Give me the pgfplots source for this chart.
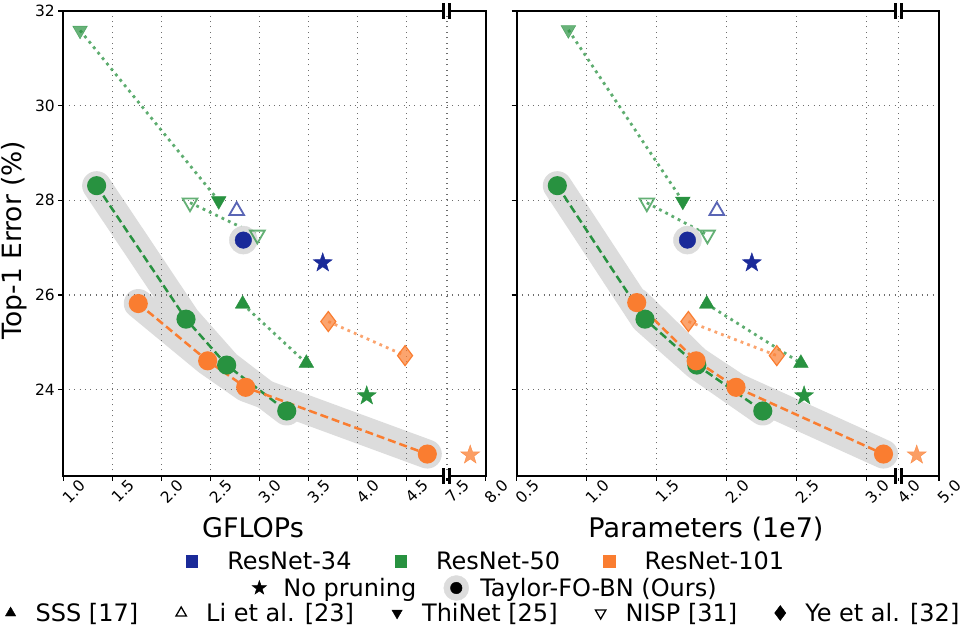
\documentclass[border=0pt]{standalone}
\usepackage{fontspec}
\setmainfont{DejaVu Sans}
\usepackage{pgfplots}
\pgfplotsset{compat=1.18}
\definecolor{rblue}{RGB}{26,42,153}
\definecolor{rgreen}{RGB}{40,146,64}
\definecolor{rorange}{RGB}{250,125,48}
\definecolor{halo}{RGB}{220,220,220}
\definecolor{gridc}{RGB}{110,110,110}

\pgfdeclareplotmark{fstar}{%
 \pgfpathmoveto{\pgfpointpolar{90}{\pgfplotmarksize}}%
 \pgfpathlineto{\pgfpointpolar{126}{0.4\pgfplotmarksize}}%
 \pgfpathlineto{\pgfpointpolar{162}{\pgfplotmarksize}}%
 \pgfpathlineto{\pgfpointpolar{198}{0.4\pgfplotmarksize}}%
 \pgfpathlineto{\pgfpointpolar{234}{\pgfplotmarksize}}%
 \pgfpathlineto{\pgfpointpolar{270}{0.4\pgfplotmarksize}}%
 \pgfpathlineto{\pgfpointpolar{306}{\pgfplotmarksize}}%
 \pgfpathlineto{\pgfpointpolar{342}{0.4\pgfplotmarksize}}%
 \pgfpathlineto{\pgfpointpolar{18}{\pgfplotmarksize}}%
 \pgfpathlineto{\pgfpointpolar{54}{0.4\pgfplotmarksize}}%
 \pgfpathclose\pgfusepathqfillstroke}

\pgfplotsset{
 panel/.style={set layers=standard, scale only axis, width=422.4pt, height=464.7pt,
  ymin=22.183, ymax=32, ytick={24,26,28,30,32},
  axis line style={line width=1.8pt}, tick style={line width=1.3pt, black},
  major tick length=5pt, tick align=outside, xtick pos=lower, ytick pos=left,
  grid=major, major grid style={gridc, line width=1.1pt, dash pattern=on 1.1pt off 4.3pt},
  tick label style={font=\fontsize{15.5}{17}\selectfont},
  x tick label style={rotate=45, anchor=center, yshift=-15pt, inner sep=0.5pt},
  /pgf/number format/assume math mode=true, /pgf/number format/fixed,
  /pgf/number format/precision=1, clip=false},
 band/.style={on layer=axis background, halo, line width=29pt, line cap=round, line join=round},
 taylor/.style={line width=2.5pt, dash pattern=on 8pt off 4pt, mark=*, mark size=8.3pt, mark options={solid}},
 dotl/.style={line width=2.8pt, dash pattern=on 2.8pt off 4.2pt},
 upt/.style={only marks, mark=triangle*, mark size=8.5pt},
 dnt/.style={only marks, mark=triangle*, mark size=8.5pt, mark options={rotate=180}},
 opdnt/.style={only marks, mark=triangle, mark size=8.5pt, mark options={rotate=180, line width=1.8pt}, opacity=0.72},
 opupt/.style={only marks, mark=triangle, mark size=8.5pt, mark options={line width=1.8pt}, opacity=0.72},
 dia/.style={only marks, mark=diamond*, mark size=10pt, mark options={fill opacity=0.7, line width=1.2pt}},
 starm/.style={only marks, mark=fstar, mark size=10pt},
 legrow/.style={hide axis, scale only axis, width=10pt, height=10pt, xmin=0, xmax=1, ymin=0, ymax=1, anchor=center,
  legend style={at={(0.5,0.5)}, anchor=center, draw=none, fill=none, legend columns=-1,
   font=\fontsize{24}{27}\selectfont, nodes={inner sep=0pt}},
  legend image code/.code={\path[draw=none,fill=none] (-10pt,-6pt) rectangle (10pt,6pt); \draw[mark repeat=2,mark phase=2,##1] plot coordinates {(-1pt,0pt)(0pt,0pt)(1pt,0pt)};}},
}

\begin{document}
\begin{tikzpicture}

% ---------------- left panel: GFLOPs ----------------
\begin{axis}[panel, at={(63.3pt,150.3pt)}, anchor=south west,
  xmin=1.0, xmax=5.31,
  xtick={1.0,1.5,2.0,2.5,3.0,3.5,4.0,4.5,4.915,5.31},
  xticklabels={1.0,1.5,2.0,2.5,3.0,3.5,4.0,4.5,7.5,8.0}]
% halos
\addplot[band] coordinates {(1.34,28.31) (2.252,25.49) (2.667,24.52) (3.28,23.55)};
\addplot[band] coordinates {(1.765,25.82) (2.473,24.61) (2.861,24.05) (4.714,22.64)};
\addplot[on layer=axis background, only marks, mark=*, mark size=14pt, halo] coordinates {(2.837,27.16)};
% ResNet-50 ThiNet
\addplot[rgreen, dotl, opacity=0.75] coordinates {(1.171,31.59) (2.586,27.99)};
\addplot[rgreen, dnt, opacity=0.7] coordinates {(1.171,31.59)};
\addplot[rgreen, dnt] coordinates {(2.586,27.99)};
% ResNet-50 NISP
\addplot[rgreen, dotl, opacity=0.75] coordinates {(2.293,27.95) (2.98,27.27)};
\addplot[rgreen, opdnt] coordinates {(2.293,27.95) (2.98,27.27)};
% ResNet-34
\addplot[rblue, opupt] coordinates {(2.769,27.78)};
\addplot[rblue, only marks, mark=*, mark size=8.3pt] coordinates {(2.837,27.16)};
\addplot[rblue, starm] coordinates {(3.647,26.68)};
% ResNet-50 SSS
\addplot[rgreen, dotl, opacity=0.75] coordinates {(2.83,25.81) (3.48,24.56)};
\addplot[rgreen, upt] coordinates {(2.83,25.81) (3.48,24.56)};
% ResNet-101 Ye et al.
\addplot[rorange, dotl, opacity=0.7] coordinates {(3.704,25.44) (4.487,24.72)};
\addplot[rorange, dia] coordinates {(3.704,25.44) (4.487,24.72)};
% Taylor-FO-BN
\addplot[rgreen, taylor] coordinates {(1.34,28.31) (2.252,25.49) (2.667,24.52) (3.28,23.55)};
\addplot[rorange, taylor] coordinates {(1.765,25.82) (2.473,24.61) (2.861,24.05) (4.714,22.64)};
% no pruning
\addplot[rgreen, starm] coordinates {(4.096,23.87)};
\addplot[rorange, starm, opacity=0.75] coordinates {(5.152,22.62)}; % 7.8 GFLOPs on the broken segment
\begin{pgfonlayer}{axis foreground}
\fill[white] ([xshift=-3pt,yshift=-2pt]axis cs:4.915,32) rectangle ([xshift=3pt,yshift=2pt]axis cs:4.915,32);
\draw[line width=3pt] ([xshift=-3pt,yshift=-8pt]axis cs:4.915,32) -- ++(0pt,16pt);
\draw[line width=3pt] ([xshift=3pt,yshift=-8pt]axis cs:4.915,32) -- ++(0pt,16pt);
\fill[white] ([xshift=-3pt,yshift=-2pt]axis cs:4.915,22.183) rectangle ([xshift=3pt,yshift=2pt]axis cs:4.915,22.183);
\draw[line width=3pt] ([xshift=-3pt,yshift=-8pt]axis cs:4.915,22.183) -- ++(0pt,16pt);
\draw[line width=3pt] ([xshift=3pt,yshift=-8pt]axis cs:4.915,22.183) -- ++(0pt,16pt);
\end{pgfonlayer}
\end{axis}

% ---------------- right panel: Parameters ----------------
\begin{axis}[panel, at={(516.7pt,150.3pt)}, anchor=south west,
  xmin=0.5, xmax=3.516, yticklabels={},
  xtick={0.5,1.0,1.5,2.0,2.5,3.0,3.226,3.516},
  xticklabels={0.5,1.0,1.5,2.0,2.5,3.0,4.0,5.0}]
\addplot[band] coordinates {(0.79,28.31) (1.416,25.49) (1.786,24.52) (2.257,23.55)};
\addplot[band] coordinates {(1.357,25.84) (1.781,24.61) (2.066,24.05) (3.119,22.64)};
\addplot[on layer=axis background, only marks, mark=*, mark size=14pt, halo] coordinates {(1.719,27.16)};
\addplot[rgreen, dotl, opacity=0.75] coordinates {(0.869,31.6) (1.686,27.98)};
\addplot[rgreen, dnt, opacity=0.7] coordinates {(0.869,31.6)};
\addplot[rgreen, dnt] coordinates {(1.686,27.98)};
\addplot[rgreen, dotl, opacity=0.75] coordinates {(1.429,27.95) (1.862,27.27)};
\addplot[rgreen, opdnt] coordinates {(1.429,27.95) (1.862,27.27)};
\addplot[rblue, opupt] coordinates {(1.929,27.78)};
\addplot[rblue, only marks, mark=*, mark size=8.3pt] coordinates {(1.719,27.16)};
\addplot[rblue, starm] coordinates {(2.179,26.68)};
\addplot[rgreen, dotl, opacity=0.75] coordinates {(1.857,25.81) (2.529,24.56)};
\addplot[rgreen, upt] coordinates {(1.857,25.81) (2.529,24.56)};
\addplot[rorange, dotl, opacity=0.7] coordinates {(1.726,25.44) (2.357,24.72)};
\addplot[rorange, dia] coordinates {(1.726,25.44) (2.357,24.72)};
\addplot[rgreen, taylor] coordinates {(0.79,28.31) (1.416,25.49) (1.786,24.52) (2.257,23.55)};
\addplot[rorange, taylor] coordinates {(1.357,25.84) (1.781,24.61) (2.066,24.05) (3.119,22.64)};
\addplot[rgreen, starm] coordinates {(2.552,23.87)};
\addplot[rorange, starm, opacity=0.75] coordinates {(3.356,22.62)}; % 4.45e7 on the broken segment
\begin{pgfonlayer}{axis foreground}
\fill[white] ([xshift=-3pt,yshift=-2pt]axis cs:3.226,32) rectangle ([xshift=3pt,yshift=2pt]axis cs:3.226,32);
\draw[line width=3pt] ([xshift=-3pt,yshift=-8pt]axis cs:3.226,32) -- ++(0pt,16pt);
\draw[line width=3pt] ([xshift=3pt,yshift=-8pt]axis cs:3.226,32) -- ++(0pt,16pt);
\fill[white] ([xshift=-3pt,yshift=-2pt]axis cs:3.226,22.183) rectangle ([xshift=3pt,yshift=2pt]axis cs:3.226,22.183);
\draw[line width=3pt] ([xshift=-3pt,yshift=-8pt]axis cs:3.226,22.183) -- ++(0pt,16pt);
\draw[line width=3pt] ([xshift=3pt,yshift=-8pt]axis cs:3.226,22.183) -- ++(0pt,16pt);
\end{pgfonlayer}
\end{axis}

% axis labels
\node[rotate=90, anchor=base, font=\fontsize{26.5}{30}\selectfont] at (21.7pt,386pt) {Top-1 Error (\%)};
\node[anchor=base, font=\fontsize{27}{30}\selectfont] at (253pt,88pt) {GFLOPs};
\node[anchor=base, font=\fontsize{27}{30}\selectfont] at (706pt,88pt) {Parameters (1e7)};

% legend rows
\begin{axis}[legrow, at={(483pt,65pt)},
  legend style={/tikz/every odd column/.append style={column sep=25.5pt},
                /tikz/every even column/.append style={column sep=39pt}}]
\addlegendimage{only marks, mark=square*, mark size=5.8pt, rblue}
\addlegendentry{ResNet-34}
\addlegendimage{only marks, mark=square*, mark size=5.8pt, rgreen}
\addlegendentry{ResNet-50}
\addlegendimage{only marks, mark=square*, mark size=5.8pt, rorange}
\addlegendentry{ResNet-101}
\end{axis}

\begin{axis}[legrow, at={(483pt,38pt)},
  legend style={/tikz/every odd column/.append style={column sep=14pt},
                /tikz/every even column/.append style={column sep=30pt}}]
\addlegendimage{only marks, mark=fstar, mark size=7.5pt, black}
\addlegendentry{No pruning}
\addlegendimage{legend image code/.code={\path[draw=none,fill=none] (-10pt,-13pt) rectangle (10pt,13pt); \fill[halo, overlay] (0pt,0pt) circle (12.5pt); \fill[black] (0pt,0pt) circle (5.8pt);}}
\addlegendentry{Taylor-FO-BN (Ours)}
\end{axis}

\begin{axis}[legrow, at={(480pt,13pt)},
  legend style={/tikz/every odd column/.append style={column sep=15pt},
                /tikz/every even column/.append style={column sep=33pt}}]
\addlegendimage{only marks, mark=triangle*, mark size=6pt, black}
\addlegendentry{SSS [17]}
\addlegendimage{only marks, mark=triangle, mark size=6pt, mark options={line width=1.3pt}, black}
\addlegendentry{Li et al. [23]}
\addlegendimage{only marks, mark=triangle*, mark size=6pt, mark options={rotate=180}, black}
\addlegendentry{ThiNet [25]}
\addlegendimage{only marks, mark=triangle, mark size=6pt, mark options={rotate=180, line width=1.3pt}, black}
\addlegendentry{NISP [31]}
\addlegendimage{only marks, mark=diamond*, mark size=7.5pt, black}
\addlegendentry{Ye et al. [32]}
\end{axis}

\pgfresetboundingbox
\path[use as bounding box] (0pt,0pt) rectangle (960pt,626pt);
\end{tikzpicture}
\end{document}
